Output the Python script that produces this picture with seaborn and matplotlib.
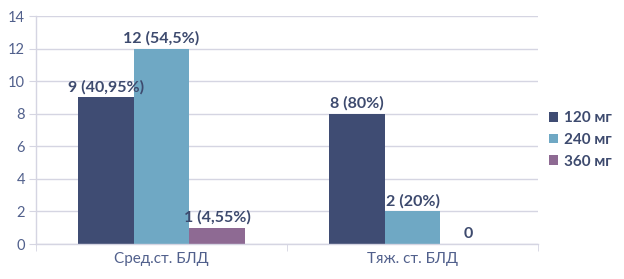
import matplotlib
matplotlib.use("Agg")
import matplotlib.pyplot as plt
import seaborn as sns
import pandas as pd
from matplotlib.ticker import FixedLocator

categories = ["Сред.ст. БЛД", "Тяж. ст. БЛД"]
doses = ["120 мг", "240 мг", "360 мг"]
values_120 = [9, 8]
values_240 = [12, 2]
values_360 = [1, 0]
labels_120 = ["9 (40,95%)", "8 (80%)"]
labels_240 = ["12 (54,5%)", "2 (20%)"]
labels_360 = ["1 (4,55%)", "0"]
colors = ["#3F4C73", "#6FA8C4", "#8E6A93"]

rows = []
for dose, vals in zip(doses, [values_120, values_240, values_360]):
    for c, v in zip(categories, vals):
        rows.append({"cat": c, "dose": dose, "val": v})
df = pd.DataFrame(rows)

sns.set_style("white")
plt.rcParams['font.family'] = ['Lato', 'DejaVu Sans']

fig = plt.figure(figsize=(6.24, 2.79), dpi=100)
ax = fig.add_axes([36/624, 1-244/279, (538-36)/624, (244-16)/279])

sns.barplot(data=df, x="cat", y="val", hue="dose", hue_order=doses,
            palette=colors, width=0.665, gap=0, saturation=1, ax=ax,
            edgecolor="none", linewidth=0, errorbar=None)

txtcol = "#3D4A6E"
for cont, labs in zip(ax.containers, [labels_120, labels_240, labels_360]):
    ax.bar_label(cont, labels=labs, padding=2, fontsize=11.5, fontweight="bold", color=txtcol)

ax.set_ylim(0, 14)
ax.set_xlim(-0.5, 1.5)
ax.set_yticks(range(0, 15, 2))
ax.set_xlabel("")
ax.set_ylabel("")
ax.yaxis.grid(True, color="#D5D5E2", linewidth=1)
ax.set_axisbelow(True)
for s in ["top", "right"]:
    ax.spines[s].set_visible(False)
for s in ["left", "bottom"]:
    ax.spines[s].set_color("#D5D5E2")
    ax.spines[s].set_linewidth(1)

tickcol = "#51608C"
ax.tick_params(axis="y", length=5, color="#D5D5E2", labelsize=10.5, labelcolor=tickcol, left=True, pad=3)
ax.tick_params(axis="x", which="major", length=0, labelsize=11, labelcolor=tickcol, pad=6)
ax.xaxis.set_minor_locator(FixedLocator([-0.5, 0.5, 1.5]))
ax.tick_params(axis="x", which="minor", length=5, color="#D5D5E2", bottom=True)

leg = ax.legend(loc="center left", bbox_to_anchor=(1.0, 0.456), frameon=False,
                handlelength=0.6, handleheight=0.6, handletextpad=0.4, labelspacing=0.5,
                borderaxespad=0.3, prop={"weight": "bold", "size": 11})
for t in leg.get_texts():
    t.set_color(txtcol)

fig.savefig("out.png", dpi=100)
